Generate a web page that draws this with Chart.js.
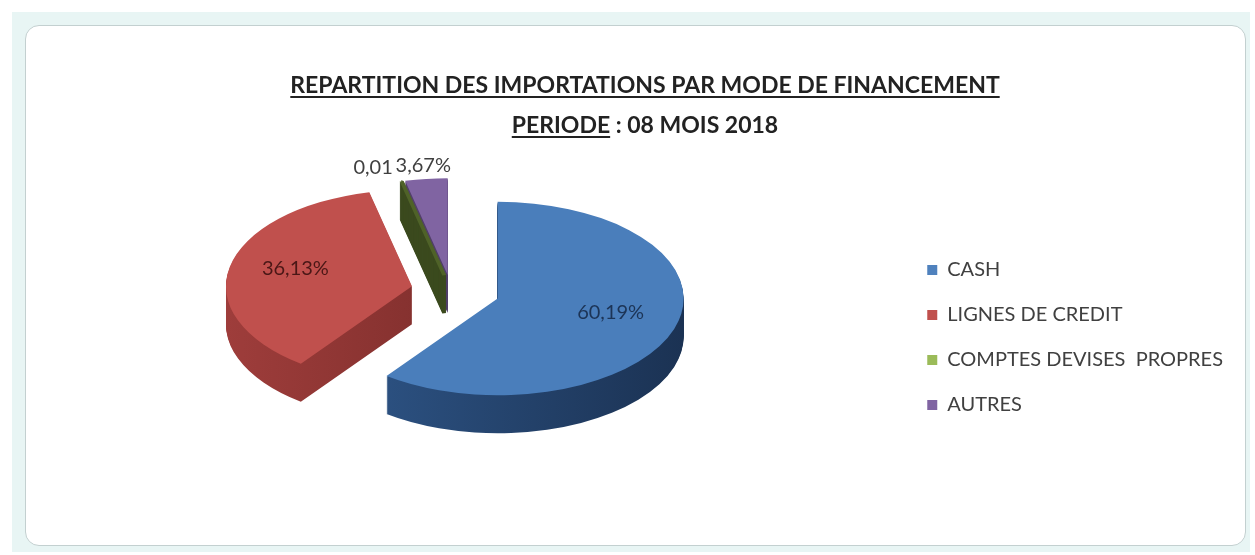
<!DOCTYPE html>
<html>
<head>
<meta charset="utf-8">
<title>Repartition des importations</title>
<script src="https://cdn.jsdelivr.net/npm/chart.js@4"></script>
<style>
	body { margin: 0; background: #fff; }
	#cadre { position: absolute; left: 12px; top: 12px; width: 1238px; height: 540px; background: #e8f5f4; }
	#zone { position: absolute; left: 25px; top: 25px; width: 1219px; height: 519px; background: #fff; border: 1px solid #c3d0d0; border-radius: 14px; }
	#titre { position: absolute; left: 0; width: 1290px; top: 64px; text-align: center; font-family: Lato; font-weight: bold; font-size: 23px; color: #222; line-height: 40px; }
	#titre u { text-underline-offset: 3px; }
	canvas { position: absolute; left: 0; top: 0; }
</style>
</head>
<body>
<div id="cadre"></div>
<div id="zone"></div>
<canvas id="camembert" width="1255" height="555"></canvas>
<div id="titre"><u>REPARTITION DES IMPORTATIONS PAR MODE DE FINANCEMENT</u><br><u>PERIODE</u> : 08 MOIS 2018</div>
<script>
var modes = ["CASH", "LIGNES DE CREDIT", "COMPTES DEVISES  PROPRES", "AUTRES"];
var parts = [60.19, 36.13, 0.01, 3.67];
var etiquettes = ["60,19%", "36,13%", "0,01", "3,67%"];

// couleurs (legende, dessus des parts, cotes, textes)
var couleurs = ["#4f81bd", "#c0504d", "#9bbb59", "#8064a2"];
var couleursDessus = ["#4a7ebb", "#c0504d", "#4f6228", "#8064a2"];
var couleursCotes = ["#2f578a", "#9e3d3b", "#3b4a1e", "#5c4776"];
var couleursCotesFonce = ["#1b3253", "#6e2624", "#2a3514", "#43345a"];
var couleursTextes = ["#1c3456", "#4a1716", "#404040", "#404040"];

var INCLINAISON = 0.52;
var EPAISSEUR = 38;
var DECALAGE_Y = -47;
var ECLATEMENT = [49, 40, 30, 30];

var effet3d = {
	id: 'effet3d',
	beforeDatasetsDraw: function(chart) {
		var ctx = chart.ctx;
		var arcs = chart.getDatasetMeta(0).data;
		var cx = arcs[0].x, cy = arcs[0].y, R = arcs[0].outerRadius;

		function milieu(i) {
			return (arcs[i].startAngle + arcs[i].endAngle) / 2;
		}
		function placer(i, dy) {
			var a = milieu(i);
			ctx.translate(cx, cy + DECALAGE_Y + dy);
			ctx.scale(1, INCLINAISON);
			ctx.translate(-cx, -cy);
			ctx.translate(Math.cos(a) * ECLATEMENT[i], Math.sin(a) * ECLATEMENT[i]);
		}

		var cotes = couleursCotes.map(function(c, i) {
			var g = ctx.createLinearGradient(cx - R, 0, cx + R, 0);
			g.addColorStop(0, c);
			g.addColorStop(1, couleursCotesFonce[i]);
			return g;
		});

		// cotes, du fond vers le dessus
		for (var d = EPAISSEUR; d > 0; d--) {
			for (var i = 0; i < arcs.length; i++) {
				var o = arcs[i].options;
				arcs[i].options = Object.assign({}, o, {backgroundColor: cotes[i], borderColor: couleursCotes[i]});
				ctx.save();
				placer(i, d);
				arcs[i].draw(ctx);
				ctx.restore();
				arcs[i].options = o;
			}
		}
		// dessus
		for (var i = 0; i < arcs.length; i++) {
			ctx.save();
			placer(i, 0);
			arcs[i].draw(ctx);
			ctx.restore();
		}

		// etiquettes
		ctx.save();
		ctx.font = "20px Lato";
		ctx.textBaseline = "middle";
		for (var i = 0; i < arcs.length; i++) {
			var a = milieu(i);
			var petit = parts[i] < 5;
			var r = ECLATEMENT[i] + (petit ? 1.14 : 0.64) * R;
			var x = cx + Math.cos(a) * r;
			var y = cy + DECALAGE_Y + Math.sin(a) * r * INCLINAISON;
			ctx.textAlign = "center";
			if (petit && Math.cos(a) < -0.2) { ctx.textAlign = "right"; x -= 3; }
			if (petit && Math.cos(a) > 0.2) { ctx.textAlign = "left"; x += 3; }
			if (!petit) y -= 5;
			ctx.fillStyle = couleursTextes[i];
			ctx.fillText(etiquettes[i], x, y);
		}
		ctx.restore();
		return false;
	}
};

var ctx = document.getElementById("camembert");

var graphe = new Chart(ctx, {
	type: 'pie',
	data: {
		labels: modes,
		datasets: [
			{
				data: parts,
				backgroundColor: couleursDessus,
				borderColor: couleursDessus,
				borderWidth: [0, 0, 4, 0]
			}
		]
	},
	options: {
		responsive: false,
		animation: false,
		radius: 186,
		layout: {
			padding: { top: 120, right: 22 }
		},
		plugins: {
			tooltip: { enabled: false },
			legend: {
				position: 'right',
				labels: {
					boxWidth: 10,
					boxHeight: 10,
					padding: 25,
					color: '#404040',
					font: { family: 'Lato', size: 20 },
					generateLabels: function(chart) {
						var items = Chart.overrides.doughnut.plugins.legend.labels.generateLabels(chart);
						items.forEach(function(it, i) {
							it.fillStyle = couleurs[i];
							it.strokeStyle = couleurs[i];
							it.lineWidth = 0;
						});
						return items;
					}
				}
			}
		}
	},
	plugins: [effet3d]
});
</script>
</body>
</html>
